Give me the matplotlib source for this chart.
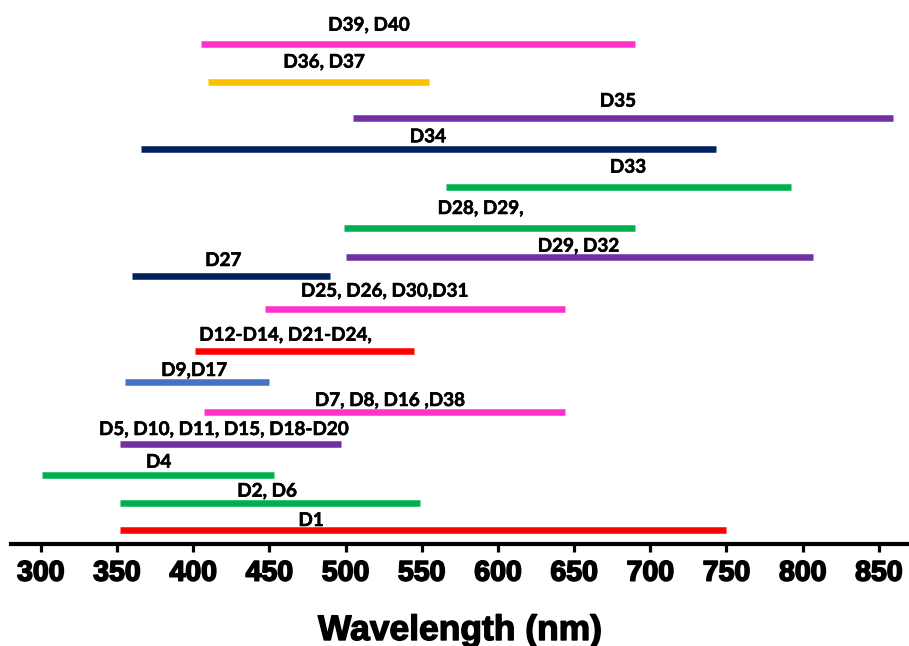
import matplotlib
matplotlib.use("Agg")
import matplotlib.pyplot as plt
import matplotlib.patheffects as pe

# wavelength ranges (nm) for each group of compounds
labels = ["D1", "D2, D6", "D4", "D5, D10, D11, D15, D18-D20", "D7, D8, D16 ,D38",
          "D9,D17", "D12-D14, D21-D24,", "D25, D26, D30,D31", "D27", "D29, D32",
          "D28, D29,", "D33", "D34", "D35", "D36, D37", "D39, D40"]
start = [352, 352, 301, 352, 407, 355, 401, 447, 360, 500, 499, 566, 366, 505, 410, 405]
end = [750, 549, 453, 497, 644, 450, 545, 644, 490, 807, 690, 792, 743, 859, 555, 690]
colors = ["#FF0000", "#00B050", "#00B050", "#7030A0", "#FF33CC", "#4472C4", "#FF0000",
          "#FF33CC", "#002060", "#7030A0", "#00B050", "#00B050", "#002060", "#7030A0",
          "#FFC000", "#FF33CC"]
xticks = [300, 350, 400, 450, 500, 550, 600, 650, 700, 750, 800, 850]

# layout: row heights and label placement
rows = [14, 41.3, 69, 99.7, 132.3, 161.7, 192.7, 234.7, 268.3, 286.7, 316.5, 357, 395.3, 425.8, 461.7, 500.3]
label_y = [18, 47.3, 76.3, 109, 138, 168, 203.3, 247.3, 278, 292.3, 330, 371.3, 401.7, 437.3, 476.3, 513.3]
label_x = [477.4, 448.5, 377.4, 420, 529, 400.6, 460.6, 525.6, 419.8, 652.9, 588.6, 685.4, 554.1, 678.8, 485.9, 515.4]

W, H = 909, 646
fig = plt.figure(figsize=(W / 100, H / 100), dpi=100)
ax = fig.add_axes([11 / W, (H - 544) / H, (908 - 11) / W, 544 / H])

for y, x0, x1, c in zip(rows, start, end, colors):
    ax.hlines(y, x0, x1, color=c, lw=4.7, capstyle="butt")

for lab, x, y in zip(labels, label_x, label_y):
    ax.text(x, y, lab, ha="center", va="baseline", fontsize=13.6,
            fontweight="bold", family=["Lato", "DejaVu Sans"], color="black",
            path_effects=[pe.withStroke(linewidth=0.4, foreground="black")])

heavy = [pe.withStroke(linewidth=1.2, foreground="black")]

ax.set_xlim(280.5, 869.1)
ax.set_ylim(0, 544)
for s in ["top", "right", "left"]:
    ax.spines[s].set_visible(False)
ax.spines["bottom"].set_linewidth(3)
ax.set_yticks([])
ax.set_xticks(xticks)
ax.set_xticklabels([str(t) for t in xticks], fontsize=20.5, fontweight="bold",
                   family="Liberation Sans", path_effects=heavy)
ax.tick_params(axis="x", direction="out", length=6, width=2.3, pad=6)

fig.text(460 / W, 6 / H, "Wavelength (nm)", ha="center", va="baseline",
         fontsize=25.5, fontweight="bold", family="Liberation Sans",
         path_effects=[pe.withStroke(linewidth=1.0, foreground="black")])

fig.savefig("out.png", dpi=100)
